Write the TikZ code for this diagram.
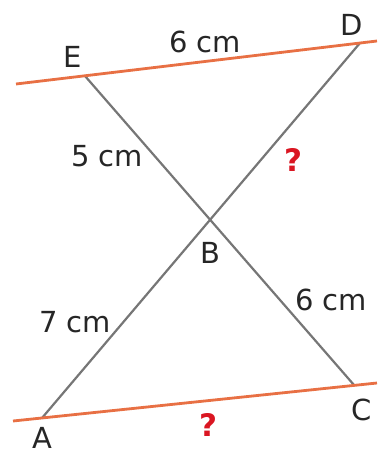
\documentclass[tikz,border=0pt]{standalone}
\usepackage{fontspec}
\setmainfont{DejaVu Sans}
\definecolor{lineorange}{RGB}{232,112,68}
\definecolor{linegray}{RGB}{118,118,118}
\definecolor{qred}{RGB}{218,22,34}
\begin{document}
\begin{tikzpicture}[x=1pt,y=-1pt,
  orangeline/.style={draw=lineorange,line width=2.8pt},
  grayline/.style={draw=linegray,line width=2.2pt},
  lbl/.style={font=\fontsize{29}{29}\selectfont,text=black!85,inner sep=0pt},
  qmark/.style={font=\fontsize{31}{31}\selectfont\bfseries,text=qred,inner sep=0pt}]
\useasboundingbox (0,0) rectangle (377,454);
\coordinate (T1) at (16,84);
\coordinate (T2) at (377,41);
\coordinate (L1) at (13,421);
\coordinate (L2) at (377,383);
\coordinate (E) at (85,76);
\coordinate (D) at (360,43);
\coordinate (A) at (42,418);
\coordinate (C) at (354,385);
\draw[grayline] (E) -- (C);
\draw[grayline] (A) -- (D);
\draw[orangeline] (T1) -- (T2);
\draw[orangeline] (L1) -- (L2);
\node[lbl] (lE) at (73,57) {E};
\node[lbl] (lD) at (352,25) {D};
\node[lbl] (lB) at (210,253) {B};
\node[lbl] (lA) at (42,438) {A};
\node[lbl] (lC) at (362,410) {C};
\node[lbl] (ED) at (205,42) {6 cm};
\node[lbl] (EB) at (107,156) {5 cm};
\node[lbl] (AB) at (75,322) {7 cm};
\node[lbl] (BC) at (331,300) {6 cm};
\node[qmark] (BD) at (293,160) {?};
\node[qmark] (AC) at (208,425) {?};
\end{tikzpicture}
\end{document}
